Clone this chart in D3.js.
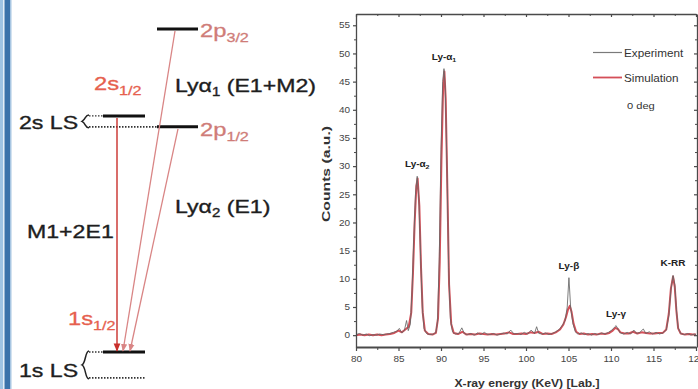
<!DOCTYPE html>
<html><head><meta charset="utf-8">
<script src="https://cdn.jsdelivr.net/npm/d3@7"></script>
<style>
html,body{margin:0;padding:0;background:#fff;}
svg{display:block;font-family:"Liberation Sans",Arial,sans-serif;}
</style></head>
<body><svg id="fig" width="698" height="389"></svg>
<script>
// ---- Spectrum: [X-ray energy (keV), counts (a.u.)] ----
const experiment = [
 [80.0,0.1],[80.4,0.3],[80.8,0.0],[81.2,0.2],[81.6,-0.1],[82.0,0.1],[82.4,0.0],[82.8,0.2],[83.2,0.1],[83.6,0.2],
 [84.0,0.3],[84.4,0.5],[84.8,0.7],[85.1,1.2],[85.4,0.4],[85.7,0.9],[85.95,2.6],[86.15,0.8],[86.4,2.0],[86.6,8],
 [86.8,17],[87.0,25],[87.2,28.2],[87.4,24],[87.6,14],[87.8,5],[88.0,1.2],[88.3,0.3],[88.7,0.1],[89.1,0.2],
 [89.4,0.5],[89.6,2.5],[89.8,14],[90.0,33],[90.2,45],[90.35,47.3],[90.5,44],[90.7,30],[90.9,12],[91.1,3],
 [91.35,0.6],[91.7,0.2],[92.1,0.3],[92.45,1.3],[92.75,0.3],[93.1,0.1],[93.5,0.3],[93.9,0.0],[94.3,0.4],[94.7,0.1],
 [95.1,0.5],[95.4,0.2],[95.8,0.1],[96.2,0.3],[96.6,0.0],[97.0,0.2],[97.4,0.4],[97.8,0.2],[98.2,0.9],[98.6,0.2],
 [99.0,0.3],[99.4,0.1],[99.8,0.5],[100.2,0.2],[100.6,0.9],[101.0,0.3],[101.25,1.5],[101.5,0.3],[101.9,0.2],[102.3,0.4],
 [102.7,0.1],[103.1,0.3],[103.5,0.6],[103.9,1.0],[104.3,1.8],[104.6,2.6],[104.85,5],[105.05,10.2],[105.25,5],[105.5,2.2],
 [105.8,0.6],[106.1,0.2],[106.5,0.4],[106.9,0.1],[107.3,0.3],[107.7,0.0],[108.1,0.3],[108.5,0.1],[108.9,0.4],[109.3,0.2],
 [109.7,0.5],[110.1,0.9],[110.4,1.4],[110.6,1.7],[110.85,1.0],[111.1,0.4],[111.5,0.2],[111.9,0.5],[112.3,0.2],[112.7,0.9],
 [113.0,0.3],[113.4,0.5],[113.8,1.1],[114.1,0.3],[114.5,0.6],[114.9,0.2],[115.3,0.5],[115.7,0.2],[116.1,0.4],[116.5,0.9],
 [116.8,3.5],[117.05,8],[117.3,10.6],[117.5,9],[117.7,4.5],[117.9,1.3],[118.2,0.3],[118.6,0.1],[119.0,0.3],[119.4,0.0],
 [119.8,0.2],[120.0,0.1]
];
const simulation = [
 [80.0,0.0],[80.5,0.1],[81.0,0.0],[81.5,0.1],[82.0,0.0],[82.5,0.1],[83.0,0.0],[83.5,0.1],[84.0,0.2],[84.5,0.4],
 [85.0,0.8],[85.4,0.5],[85.8,1.0],[86.2,1.5],[86.5,4],[86.7,11],[86.9,20],[87.1,26.5],[87.25,27.8],[87.45,23],
 [87.65,12],[87.85,4],[88.1,0.8],[88.5,0.2],[89.0,0.1],[89.4,0.4],[89.65,3],[89.85,13],[90.05,31],[90.25,44],
 [90.4,46.8],[90.55,42],[90.75,26],[90.95,9],[91.2,2],[91.5,0.4],[92.0,0.2],[92.5,0.6],[93.0,0.1],[93.5,0.2],
 [94.0,0.1],[94.5,0.3],[95.0,0.2],[95.5,0.1],[96.0,0.2],[96.5,0.1],[97.0,0.2],[97.5,0.3],[98.0,0.5],[98.5,0.2],
 [99.0,0.2],[99.5,0.3],[100.0,0.2],[100.5,0.5],[101.0,0.4],[101.5,0.6],[102.0,0.2],[102.5,0.3],[103.0,0.2],[103.5,0.5],
 [104.0,1.0],[104.4,1.9],[104.7,3.2],[104.95,4.6],[105.15,5.2],[105.35,4.2],[105.6,2.0],[105.9,0.6],[106.3,0.2],[106.8,0.3],
 [107.3,0.1],[107.8,0.2],[108.3,0.1],[108.8,0.3],[109.3,0.2],[109.8,0.4],[110.2,0.8],[110.5,1.3],[110.8,1.1],[111.1,0.5],
 [111.6,0.3],[112.1,0.3],[112.6,0.6],[113.1,0.3],[113.6,0.5],[114.1,0.4],[114.6,0.3],[115.1,0.3],[115.6,0.4],[116.1,0.4],
 [116.5,1.0],[116.8,3.8],[117.05,8.3],[117.3,10.4],[117.5,8.6],[117.7,4.2],[117.9,1.2],[118.2,0.3],[118.7,0.1],[119.2,0.2],
 [119.6,0.1],[120.0,0.1]
];
const xTicks = [80, 85, 90, 95, 100, 105, 110, 115, 120];
const yTicks = [0, 5, 10, 15, 20, 25, 30, 35, 40, 45, 50, 55];
// peak annotations: label, subscript, energy (keV), counts at the peak
const peakNames  = ["Ly-α", "Ly-α", "Ly-β", "Ly-γ", "K-RR"];
const peakSubs   = ["2", "1", "", "", ""];
const peakEnergy = [87.2, 90.35, 105.05, 110.6, 117.3];
const peakCounts = [28.2, 47.3, 10.2, 1.7, 10.6];
const seriesNames = ["Experiment", "Simulation"];
const angleNote = "0 deg";

// ---- Level scheme (schematic energies, arbitrary units) ----
const levelNames   = ["1s", "2p", "2s", "2p"];
const levelSubs    = ["1/2", "1/2", "1/2", "3/2"];
const levelEnergy  = [0, 69.7, 73.1, 100];
const diracEnergy  = { "1s": -8.0, "2s": 69.7 };   // dotted reference levels
const transitions  = [
  { from: 2, to: 0, kind: "M1" },
  { from: 3, to: 0, kind: "E1a" },
  { from: 1, to: 0, kind: "E1b" }
];

const svg = d3.select("#fig");
const SX = 1.17;   // horizontal glyph stretch (chart)
const SXL = 1.25;  // horizontal glyph stretch (level scheme)

function stretchedText(g, x, y, anchor, sx) {
  return g.append("text")
    .attr("transform", `translate(${x},${y}) scale(${sx || SX},1)`)
    .attr("text-anchor", anchor || "start");
}

// ---- Left frame border ----
svg.append("rect").attr("x", 0).attr("y", 0).attr("width", 3).attr("height", 389).attr("fill", "#9fc3e3");
svg.append("rect").attr("x", 3).attr("y", 0).attr("width", 1.5).attr("height", 389).attr("fill", "#e4eef8");
svg.append("rect").attr("x", 4.5).attr("y", 0).attr("width", 5.5).attr("height", 389).attr("fill", "#3b72aa");
svg.append("rect").attr("x", 10).attr("y", 0).attr("width", 1.5).attr("height", 389).attr("fill", "#a8c6e2");

// ---- Level diagram ----
const lev = svg.append("g");
const yL = d3.scaleLinear().domain([0, 100]).range([352, 29]);
const sLeft = 103, sRight = 145, pLeft = 157, pRight = 198, braceX = 89;
const pColor = "#cf7c78", sColor = "#e6604e", txt = "#1e1e1e";

const defs = svg.append("defs");
function marker(id, color) {
  defs.append("marker").attr("id", id).attr("viewBox", "0 0 10 10")
    .attr("refX", 9).attr("refY", 5).attr("markerWidth", 6).attr("markerHeight", 6)
    .attr("orient", "auto-start-reverse")
    .append("path").attr("d", "M0,1 L10,5 L0,9 Z").attr("fill", color);
}
marker("arrRed", "#c9302c");
marker("arrPink", "#d98585");

// dotted reference (Dirac) levels
lev.append("line").attr("x1", braceX).attr("x2", sRight).attr("y1", yL(diracEnergy["1s"])).attr("y2", yL(diracEnergy["1s"]))
  .attr("stroke", "#333").attr("stroke-width", 1.6).attr("stroke-dasharray", "1.5,1.5");
lev.append("line").attr("x1", braceX).attr("x2", pLeft).attr("y1", yL(diracEnergy["2s"])).attr("y2", yL(diracEnergy["2s"]))
  .attr("stroke", "#333").attr("stroke-width", 1.6).attr("stroke-dasharray", "1.5,1.5");
// short dotted leaders to the shifted s levels
[0, 2].forEach(i => {
  lev.append("line").attr("x1", braceX).attr("x2", sLeft).attr("y1", yL(levelEnergy[i])).attr("y2", yL(levelEnergy[i]))
    .attr("stroke", "#333").attr("stroke-width", 1.4).attr("stroke-dasharray", "1.5,1.5");
});

// level bars
levelNames.forEach((n, i) => {
  const isS = n.endsWith("s");
  lev.append("line")
    .attr("x1", isS ? sLeft : pLeft).attr("x2", isS ? sRight : pRight)
    .attr("y1", yL(levelEnergy[i])).attr("y2", yL(levelEnergy[i]))
    .attr("stroke", "#111").attr("stroke-width", 3);
});

// transitions
const xTo = { M1: 117, E1a: 123, E1b: 130 };
const xFrom = { M1: 117, E1a: 175, E1b: 178 };
transitions.forEach(t => {
  lev.append("line")
    .attr("x1", xFrom[t.kind]).attr("y1", yL(levelEnergy[t.from]) + 2)
    .attr("x2", xTo[t.kind]).attr("y2", yL(levelEnergy[t.to]) - 1)
    .attr("stroke", t.kind === "M1" ? "#c9302c" : "#d98585")
    .attr("stroke-width", t.kind === "M1" ? 1.4 : 1.3)
    .attr("marker-end", t.kind === "M1" ? "url(#arrRed)" : "url(#arrPink)");
});

// braces
function brace(yTop, yBot) {
  const m = (yTop + yBot) / 2, x = braceX;
  lev.append("path")
    .attr("d", `M${x},${yTop} C${x-4},${yTop} ${x-3},${m-2} ${x-7},${m} C${x-3},${m+2} ${x-4},${yBot} ${x},${yBot}`)
    .attr("fill", "none").attr("stroke", "#222").attr("stroke-width", 1.5);
}
brace(yL(levelEnergy[2]) - 1, yL(diracEnergy["2s"]) + 1);
brace(yL(levelEnergy[0]) - 1, yL(diracEnergy["1s"]) + 1);

// level labels
function subLabel(x, y, main, sub, color, size) {
  const t = stretchedText(lev, x, y, "start", SXL).attr("fill", color).attr("font-size", size)
    .attr("stroke", color).attr("stroke-width", 0.3);
  t.append("tspan").text(main);
  t.append("tspan").attr("font-size", size * 0.68).attr("dy", size * 0.28).text(sub);
  return t;
}
subLabel(200, 37, "2p", levelSubs[3], pColor, 19);
subLabel(200, 136, "2p", levelSubs[1], pColor, 19);
subLabel(94, 90, "2s", levelSubs[2], sColor, 19);
subLabel(68, 325, "1s", levelSubs[0], sColor, 19);

function darkText(x, y) {
  return stretchedText(lev, x, y, "start", SXL).attr("font-size", 18.5).attr("fill", txt)
    .attr("stroke", txt).attr("stroke-width", 0.35);
}
darkText(19, 129).text("2s LS");
darkText(19, 377).text("1s LS");
darkText(27, 238).text("M1+2E1");

const ly1 = darkText(175, 92);
ly1.append("tspan").text("Lyα");
ly1.append("tspan").attr("font-size", 12).attr("dy", 4).text("1");
ly1.append("tspan").attr("dy", -4).text(" (E1+M2)");
const ly2 = darkText(175, 213);
ly2.append("tspan").text("Lyα");
ly2.append("tspan").attr("font-size", 12).attr("dy", 4).text("2");
ly2.append("tspan").attr("dy", -4).text(" (E1)");

// ---- Spectrum chart ----
const x = d3.scaleLinear().domain([80, 120]).range([356, 696]);
const y = d3.scaleLinear().domain([-2.1, 57]).range([347, 14]);
const chart = svg.append("g");
const axisColor = "#4a4a4a";

chart.append("clipPath").attr("id", "plotClip").append("rect")
  .attr("x", 356).attr("y", 14).attr("width", 341).attr("height", 333);

const line = d3.line().x(d => x(d[0])).y(d => y(d[1])).curve(d3.curveLinear);
const plot = chart.append("g").attr("clip-path", "url(#plotClip)");
plot.append("path").datum(simulation).attr("d", line)
  .attr("fill", "none").attr("stroke", "#d44f58").attr("stroke-width", 2).attr("stroke-linejoin", "round");
plot.append("path").datum(experiment).attr("d", line)
  .attr("fill", "none").attr("stroke", "#666").attr("stroke-width", 1).attr("stroke-opacity", 0.85).attr("stroke-linejoin", "round");

function styleAxis(g, labels) {
  g.select(".domain").attr("stroke", axisColor).attr("stroke-width", 1.3);
  g.selectAll(".tick line").attr("stroke", axisColor).attr("stroke-width", 1.2);
  g.selectAll(".tick text").attr("fill", "#444").attr("font-size", 8.5)
    .attr("font-family", "'Liberation Sans',Arial,sans-serif");
  if (!labels) g.selectAll(".tick text").remove();
}
const yMinor = yTicks.map(v => v + 2.5).filter(v => v < 57);
const xMinor = xTicks.map(v => v + 2.5).filter(v => v < 120);

// left axis
const gy = chart.append("g").attr("transform", "translate(356,0)")
  .call(d3.axisLeft(y).tickValues(yTicks).tickSize(3).tickPadding(3).tickSizeOuter(0));
styleAxis(gy, true);
gy.selectAll(".tick text").attr("transform", `scale(${SX},1)`).attr("x", -6 / SX);
chart.append("g").attr("transform", "translate(356,0)")
  .call(d3.axisLeft(y).tickValues(yMinor).tickSize(2).tickFormat("").tickSizeOuter(0))
  .call(g => { g.select(".domain").remove(); g.selectAll("line").attr("stroke", axisColor); });

// right axis (ticks inward)
const gr = chart.append("g").attr("transform", "translate(697,0)")
  .call(d3.axisLeft(y).tickValues(yTicks).tickSize(3).tickSizeOuter(0));
styleAxis(gr, false);
chart.append("g").attr("transform", "translate(697,0)")
  .call(d3.axisLeft(y).tickValues(yMinor).tickSize(2).tickFormat("").tickSizeOuter(0))
  .call(g => { g.select(".domain").remove(); g.selectAll("line").attr("stroke", axisColor); });

// top axis (ticks inward)
const gt = chart.append("g").attr("transform", "translate(0,14)")
  .call(d3.axisBottom(x).tickValues(xTicks).tickSize(3).tickSizeOuter(0));
styleAxis(gt, false);
chart.append("g").attr("transform", "translate(0,14)")
  .call(d3.axisBottom(x).tickValues(xMinor).tickSize(2).tickFormat("").tickSizeOuter(0))
  .call(g => { g.select(".domain").remove(); g.selectAll("line").attr("stroke", axisColor); });

// bottom axis
const gx = chart.append("g").attr("transform", "translate(0,347)")
  .call(d3.axisBottom(x).tickValues(xTicks).tickSize(4).tickPadding(5).tickSizeOuter(0));
styleAxis(gx, true);
gx.select(".domain").attr("stroke-width", 2.2);
gx.selectAll(".tick text").attr("transform", `scale(${SX},1)`);
chart.append("g").attr("transform", "translate(0,347)")
  .call(d3.axisBottom(x).tickValues(xMinor).tickSize(3).tickFormat("").tickSizeOuter(0))
  .call(g => { g.select(".domain").remove(); g.selectAll("line").attr("stroke", axisColor); });

// axis titles
chart.append("text").attr("transform", "translate(330,174) rotate(-90)")
  .attr("text-anchor", "middle").attr("font-size", 11.5).attr("font-weight", "bold").attr("fill", "#333")
  .attr("textLength", 96).attr("lengthAdjust", "spacingAndGlyphs").text("Counts (a.u.)");
chart.append("text").attr("x", 527).attr("y", 387)
  .attr("text-anchor", "middle").attr("font-size", 11.5).attr("font-weight", "bold").attr("fill", "#333")
  .attr("textLength", 145).attr("lengthAdjust", "spacingAndGlyphs").text("X-ray energy (KeV) [Lab.]");

// peak labels
peakNames.forEach((n, i) => {
  const t = stretchedText(chart, x(peakEnergy[i]), y(peakCounts[i]) - 9, "middle")
    .attr("font-size", 8.5).attr("font-weight", "bold").attr("fill", "#222");
  t.append("tspan").text(n);
  if (peakSubs[i]) t.append("tspan").attr("font-size", 6).attr("dy", 2).text(peakSubs[i]);
});

// legend
const legColors = ["#7a7a7a", "#d44f58"];
seriesNames.forEach((s, i) => {
  const ly = 52.5 + i * 25;
  chart.append("line").attr("x1", 593).attr("x2", 622).attr("y1", ly).attr("y2", ly)
    .attr("stroke", legColors[i]).attr("stroke-width", i ? 1.8 : 1.2);
  stretchedText(chart, 624, ly + 4).attr("font-size", 10).attr("fill", "#333").text(s);
});
stretchedText(chart, 627, 109).attr("font-size", 9.5).attr("fill", "#333").text(angleNote);
</script>
</body></html>
